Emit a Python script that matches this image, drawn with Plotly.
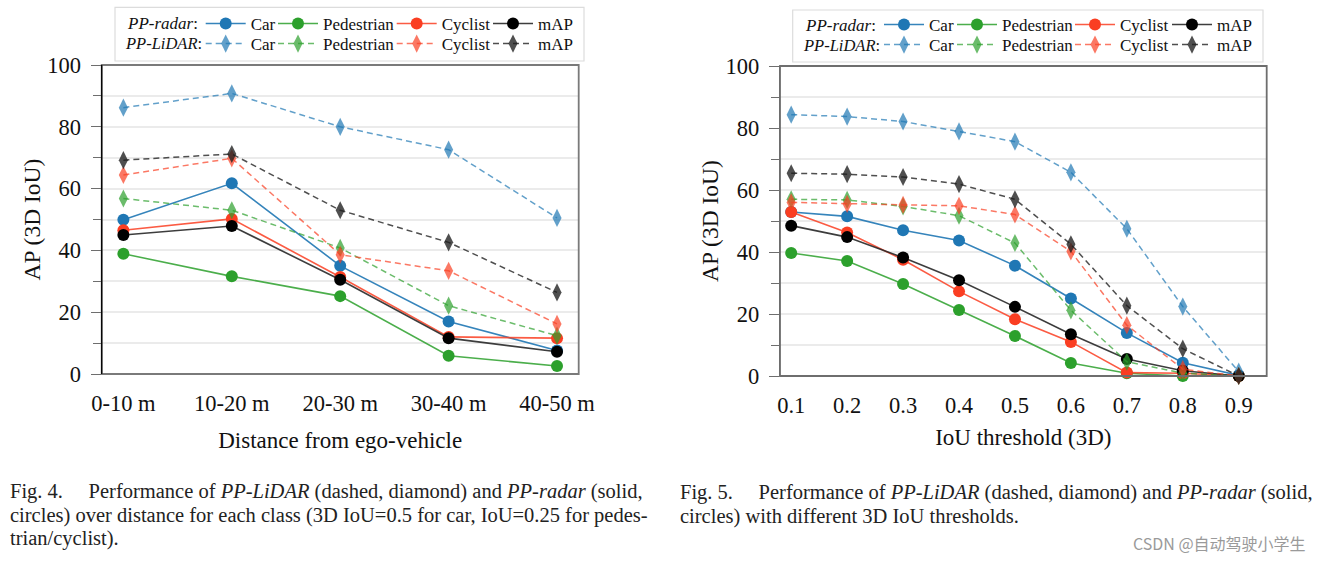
import plotly.graph_objects as go

W, H = 1324, 562

# ---------------- data ----------------
distance_labels = ["0-10 m", "10-20 m", "20-30 m", "30-40 m", "40-50 m"]
radar_car_dist = [49.9, 61.7, 35.0, 17.0, 7.6]
radar_ped_dist = [38.9, 31.6, 25.2, 5.9, 2.6]
radar_cyc_dist = [46.5, 50.2, 31.4, 12.0, 11.6]
radar_map_dist = [45.0, 47.9, 30.5, 11.6, 7.2]
lidar_car_dist = [86.2, 90.8, 80.0, 72.6, 50.5]
lidar_ped_dist = [56.8, 53.0, 40.8, 22.1, 12.4]
lidar_cyc_dist = [64.4, 69.8, 38.6, 33.4, 16.2]
lidar_map_dist = [69.2, 71.2, 53.0, 42.6, 26.4]

iou_thresholds = [0.1, 0.2, 0.3, 0.4, 0.5, 0.6, 0.7, 0.8, 0.9]
radar_car_iou = [52.9, 51.5, 47.0, 43.7, 35.6, 25.0, 13.9, 4.3, 0.2]
radar_ped_iou = [39.7, 37.1, 29.7, 21.3, 12.9, 4.2, 0.9, 0.0, 0.0]
radar_cyc_iou = [52.9, 46.3, 37.5, 27.3, 18.3, 11.0, 1.1, 0.9, 0.0]
radar_map_iou = [48.5, 44.8, 38.2, 30.9, 22.3, 13.5, 5.5, 1.7, 0.0]
lidar_car_iou = [84.3, 83.7, 82.1, 78.9, 75.6, 65.7, 47.5, 22.4, 1.4]
lidar_ped_iou = [57.0, 56.8, 54.7, 51.7, 42.9, 21.2, 4.6, 0.9, 0.0]
lidar_cyc_iou = [56.0, 55.5, 55.2, 54.9, 52.1, 40.2, 16.4, 2.2, 0.0]
lidar_map_iou = [65.4, 65.1, 64.2, 61.9, 57.0, 42.5, 22.7, 8.8, 0.0]

class_names = ["Car", "Pedestrian", "Cyclist", "mAP"]
radar_line_colors = ["rgba(31,119,180,0.9)", "rgba(44,160,44,0.85)", "rgba(250,62,34,0.85)", "rgba(40,40,40,0.9)"]
radar_marker_colors = ["#1f77b4", "#2ca02c", "#fa3e22", "#000000"]
lidar_colors = ["rgba(31,119,180,0.7)", "rgba(44,160,44,0.7)", "rgba(250,62,34,0.7)", "rgba(30,30,30,0.78)"]

SERIF = "Liberation Serif"
TICK_SIZE = 22.5
TITLE_SIZE = 23

fig = go.Figure()

def px_x(v):
    return v / W

def px_y(v):
    return 1 - v / H

# legend ids: per panel, per row (radar/lidar), per column (class)
def legend_id(panel, row, col):
    n = panel * 8 + row * 4 + col + 1
    return "legend" if n == 1 else f"legend{n}"

panels = [
    dict(xa="x", ya="y", x=distance_labels,
         radar=[radar_car_dist, radar_ped_dist, radar_cyc_dist, radar_map_dist],
         lidar=[lidar_car_dist, lidar_ped_dist, lidar_cyc_dist, lidar_map_dist]),
    dict(xa="x2", ya="y2", x=iou_thresholds,
         radar=[radar_car_iou, radar_ped_iou, radar_cyc_iou, radar_map_iou],
         lidar=[lidar_car_iou, lidar_ped_iou, lidar_cyc_iou, lidar_map_iou]),
]

for pi, p in enumerate(panels):
    for i, name in enumerate(class_names):
        fig.add_trace(go.Scatter(
            x=p["x"], y=p["radar"][i], xaxis=p["xa"], yaxis=p["ya"],
            mode="lines+markers", name=name, legend=legend_id(pi, 0, i),
            line=dict(color=radar_line_colors[i], width=1.6),
            marker=dict(symbol="circle", size=12, color=radar_marker_colors[i]),
            cliponaxis=False,
        ))
    for i, name in enumerate(class_names):
        fig.add_trace(go.Scatter(
            x=p["x"], y=p["lidar"][i], xaxis=p["xa"], yaxis=p["ya"],
            mode="lines+markers", name=name, legend=legend_id(pi, 1, i),
            line=dict(color=lidar_colors[i], width=1.5, dash="6px,4px"),
            marker=dict(symbol="diamond-tall", size=13, color=lidar_colors[i]),
            cliponaxis=False,
        ))

yaxis_common = dict(
    range=[0, 100], tickvals=[0, 20, 40, 60, 80, 100],
    ticks="outside", ticklen=10, tickwidth=1.2, tickcolor="#6e6e6e",
    ticklabelstandoff=5,
    showgrid=True, gridcolor="#ebebeb", gridwidth=1.5,
    minor=dict(dtick=10, tick0=0, ticks="outside", ticklen=8, tickcolor="#6e6e6e",
               showgrid=True, gridcolor="#ebebeb", gridwidth=1.5),
    tickfont=dict(family=SERIF, size=TICK_SIZE, color="#111"),
    title=dict(text="AP (3D IoU)", font=dict(family=SERIF, size=TITLE_SIZE + 0.5, color="#111"), standoff=0),
    zeroline=False, showline=True, linewidth=1.3, fixedrange=True, automargin=False,
)
xaxis_common = dict(
    showgrid=False, zeroline=False, ticks="", ticklabelstandoff=13,
    tickfont=dict(family=SERIF, size=TICK_SIZE, color="#111"),
    showline=False, fixedrange=True, automargin=False,
)

legend_common = dict(
    xref="paper", yref="paper", xanchor="left", yanchor="middle",
    orientation="v", bgcolor="rgba(0,0,0,0)", borderwidth=0,
    font=dict(family=SERIF, size=17, color="#111"),
    tracegroupgap=0, itemwidth=40, itemclick=False, itemdoubleclick=False,
)

layout = dict(
    width=W, height=H, margin=dict(l=0, r=0, t=0, b=0, pad=0, autoexpand=False),
    font=dict(family=SERIF, size=17, color="#111"),
    paper_bgcolor="white", plot_bgcolor="white", showlegend=True,
    xaxis=dict(xaxis_common, domain=[101.7 / W, 578.7 / W], anchor="y",
               type="category", range=[-0.2, 4.2],
               title=dict(text="Distance from ego-vehicle", font=dict(family=SERIF, size=TITLE_SIZE, color="#111"), standoff=17)),
    yaxis=dict(yaxis_common, domain=[px_y(374), px_y(65)], anchor="x", linecolor="#000"),
    xaxis2=dict(xaxis_common, domain=[780 / W, 1266.7 / W], anchor="y2",
                range=[0.08, 0.95], tickvals=iou_thresholds,
                ticktext=[f"{v:.1f}" for v in iou_thresholds],
                title=dict(text="IoU threshold (3D)", font=dict(family=SERIF, size=TITLE_SIZE, color="#111"), standoff=12)),
    yaxis2=dict(yaxis_common, domain=[px_y(376), px_y(66)], anchor="x2", linecolor="#6e6e6e"),
)

# legend handle start x per column, row centre y
left_cols = [206.7, 279, 397.7, 494]
right_cols = [885, 958, 1076, 1173]
left_rows = [24, 44]
right_rows = [25, 45]
for pi, (cols, rows) in enumerate([(left_cols, left_rows), (right_cols, right_rows)]):
    for r in range(2):
        for c in range(4):
            layout[legend_id(pi, r, c)] = dict(legend_common, x=px_x(cols[c] - 6), y=px_y(rows[r]))

fig.update_layout(**layout)

# plot frames (grey box) and legend boxes
fig.add_shape(type="rect", xref="x domain", yref="y domain", x0=0, x1=1, y0=0, y1=1,
              line=dict(color="#7a7a7a", width=1.8), layer="above")
fig.add_shape(type="line", xref="x domain", yref="y domain", x0=0, x1=0, y0=0, y1=1,
              line=dict(color="#000", width=1.3), layer="above")
fig.add_shape(type="rect", xref="x2 domain", yref="y2 domain", x0=0, x1=1, y0=0, y1=1,
              line=dict(color="#6e6e6e", width=1.8), layer="above")
fig.add_shape(type="rect", xref="paper", yref="paper",
              x0=px_x(115), x1=px_x(584), y0=px_y(61), y1=px_y(7.3),
              line=dict(color="#dcdcdc", width=1.2), fillcolor="rgba(255,255,255,0.8)", layer="below")
fig.add_shape(type="rect", xref="paper", yref="paper",
              x0=px_x(792.7), x1=px_x(1263), y0=px_y(62), y1=px_y(10),
              line=dict(color="#dcdcdc", width=1.2), fillcolor="rgba(255,255,255,0.8)", layer="below")

annotations = []
for (xp, yp, txt, sz) in [(125, 24, "<i>PP-radar</i>:", 17), (123, 44, "<i>PP-LiDAR</i>:", 16.5),
                          (803, 25, "<i>PP-radar</i>:", 17), (801, 45, "<i>PP-LiDAR</i>:", 16.5)]:
    annotations.append(dict(xref="paper", yref="paper", x=px_x(xp), y=px_y(yp),
                            xanchor="left", yanchor="middle", showarrow=False, text=txt,
                            font=dict(family=SERIF, size=sz, color="#111")))

caption_font = dict(family=SERIF, size=20.5, color="#222")
captions = [
    (8, 491, "Fig. 4.&nbsp;&nbsp;&nbsp;&nbsp; Performance of <i>PP-LiDAR</i> (dashed, diamond) and <i>PP-radar</i> (solid,"),
    (8, 515, "circles) over distance for each class (3D IoU=0.5 for car, IoU=0.25 for pedes-"),
    (8, 538, "trian/cyclist)."),
    (678, 492, "Fig. 5.&nbsp;&nbsp;&nbsp;&nbsp; Performance of <i>PP-LiDAR</i> (dashed, diamond) and <i>PP-radar</i> (solid,"),
    (678, 516, "circles) with different 3D IoU thresholds."),
]
for xp, yp, txt in captions:
    annotations.append(dict(xref="paper", yref="paper", x=px_x(xp), y=px_y(yp),
                            xanchor="left", yanchor="middle", showarrow=False, text=txt,
                            font=caption_font))
annotations.append(dict(xref="paper", yref="paper", x=px_x(1308), y=px_y(543),
                        xanchor="right", yanchor="middle", showarrow=False,
                        text="CSDN @自动驾驶小学生",
                        font=dict(family="Noto Sans CJK SC", size=16, color="#9a9a9a")))
fig.update_layout(annotations=annotations)

fig.write_html("out.html", config={"displayModeBar": False},
               post_script="document.body.style.margin='0';")
